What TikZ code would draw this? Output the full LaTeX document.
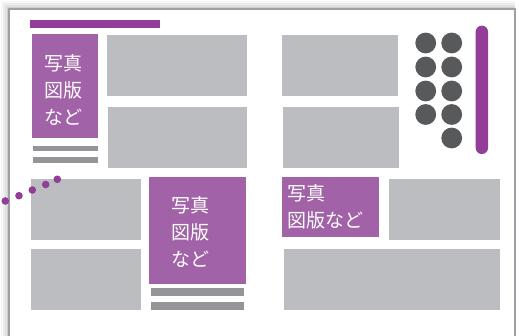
\documentclass[tikz,border=0pt]{standalone}
\usepackage{fontspec}
\newfontfamily\jp{Noto Sans CJK JP}
\definecolor{pboxc}{HTML}{A262A8}
\definecolor{pdark}{HTML}{923D97}
\definecolor{gboxc}{HTML}{BCBDC0}
\definecolor{gbarc}{HTML}{939598}
\definecolor{dotc}{HTML}{58595B}
\definecolor{edgec}{HTML}{A0A0A0}
\begin{document}
\begin{tikzpicture}[x=1pt,y=-1pt,
  gbox/.style={fill=gboxc},
  pbox/.style={fill=pboxc},
  gbar/.style={fill=gbarc},
  disc/.style={fill=dotc},
  pdot/.style={fill=pdark},
  jtext/.style={font=\jp\fontsize{19}{27}\selectfont, text=white, inner sep=0pt}]
\useasboundingbox (0,0) rectangle (519,336);
% shadow
\foreach \d/\o in {8/0.03,6/0.04,4/0.05,2/0.07}{
  \fill[black, opacity=\o] (9-\d,9-\d) rectangle (515,340);
}
% page
\draw[edgec, line width=1.3, fill=white] (9,9) rectangle (515,345);
% top purple bar
\fill[pdark] (30,20) rectangle (160,28);
% purple box 1
\fill[pbox] (32,34) rectangle (98,138.5);
\node[jtext, align=center] (t1) at (63,89.5) {写真\\図版\\など};
\fill[gbar] (33,146) rectangle (98,151.5);
\fill[gbar] (33,157) rectangle (98,163);
% gray boxes top
\fill[gbox] (107,35) rectangle (247,96);
\fill[gbox] (108,107) rectangle (247,168);
\fill[gbox] (282,35) rectangle (398,96);
\fill[gbox] (283,107) rectangle (399,168);
% circles
\foreach \y in {43,67,91,114.5}{
  \fill[disc] (425.7,\y) circle (10.4);
  \fill[disc] (451.7,\y) circle (10.4);
}
\fill[disc] (451.7,138) circle (10.4);
% vertical purple bar
\fill[pdark, rounded corners=6] (475.7,25.7) rectangle (488,154);
% lower left gray boxes
\fill[gbox] (31,179) rectangle (141,240);
\fill[gbox] (31,249) rectangle (141,309.7);
% purple box 2
\fill[pbox] (149,177) rectangle (246,283.7);
\node[jtext, align=center] (t2) at (190,231.5) {写真\\図版\\など};
\fill[gbar] (151,288.3) rectangle (244,295.7);
\fill[gbar] (151,302) rectangle (244,309.7);
% purple box 3
\fill[pbox] (282,177) rectangle (379,236.7);
\node[jtext, align=left, anchor=west] (t3) at (287,206.5) {写真\\図版など};
% right gray boxes
\fill[gbox] (389,179) rectangle (500,240);
\fill[gbox] (284,249) rectangle (500,309.7);
% dotted arc (on top)
\foreach \x/\y in {5.3/201,19/195.7,32.3/190,45.7/184.5,57.3/179.3}{
  \fill[pdot] (\x,\y) circle (3.8);
}
\end{tikzpicture}
\end{document}
